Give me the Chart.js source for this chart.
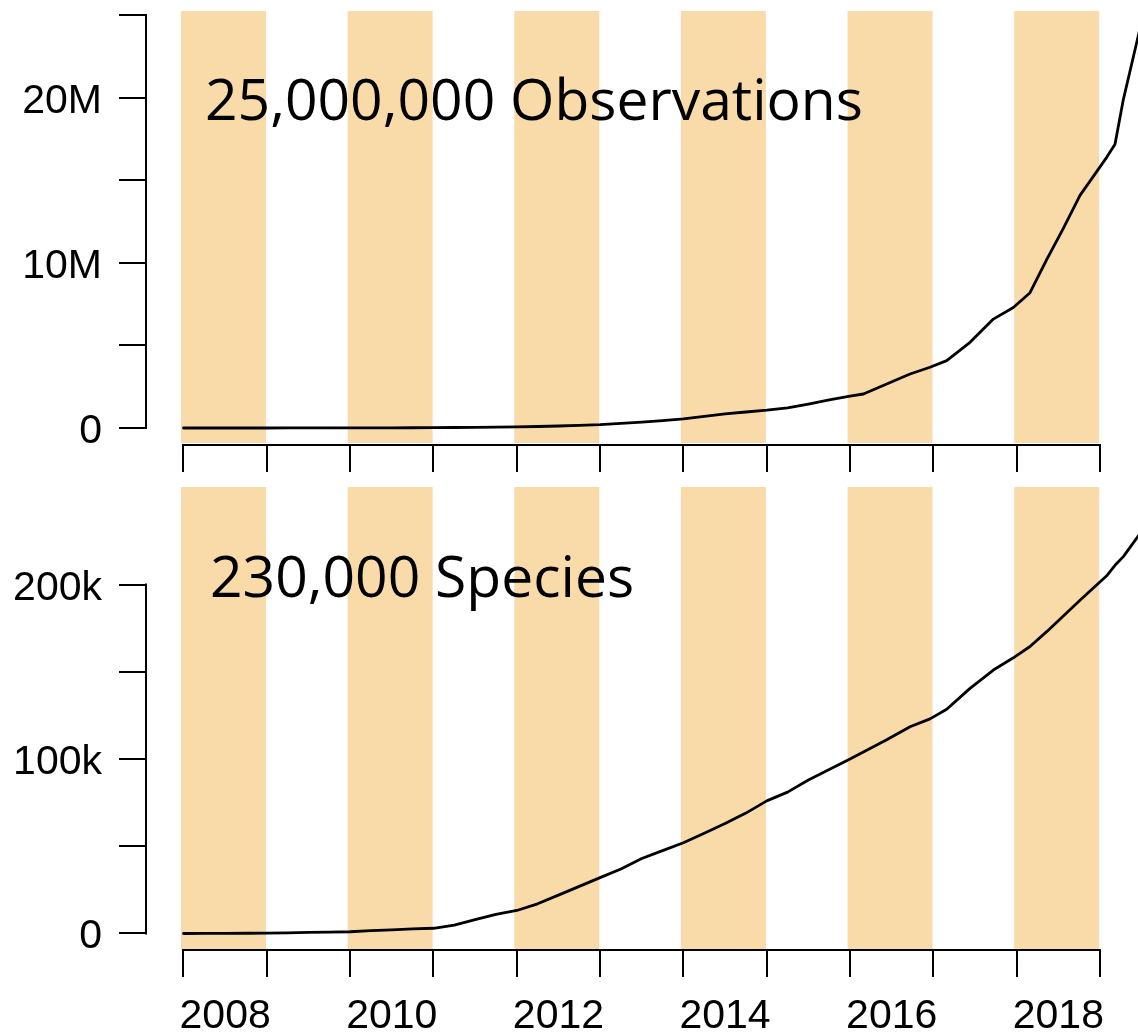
<!DOCTYPE html>
<html><head><meta charset="utf-8">
<script src="https://cdn.jsdelivr.net/npm/chart.js@4.4.1/dist/chart.umd.min.js"></script>
<style>
html,body{margin:0;padding:0;background:#fff;width:1138px;height:1032px;overflow:hidden}
.panel{position:absolute;left:0}
canvas{display:block}
</style></head><body>
<div class="panel" style="top:0"><canvas id="obs" width="1138" height="480"></canvas></div>
<div class="panel" style="top:480px"><canvas id="spp" width="1138" height="552"></canvas></div>
<script>
// ---- data (decimal years) ----
const dates = [2008.00,2008.25,2008.50,2008.75,2009.00,2009.25,2009.50,2009.75,
  2010.00,2010.25,2010.50,2010.75,2011.00,2011.25,2011.50,2011.75,
  2012.00,2012.25,2012.50,2012.75,2013.00,2013.25,2013.50,2013.75,
  2014.00,2014.25,2014.50,2014.75,2015.00,2015.25,2015.50,2015.75,
  2016.00,2016.16,2016.44,2016.72,2016.96,2017.16,2017.44,2017.72,2017.96,
  2018.16,2018.36,2018.56,2018.76,2019.08,2019.18,2019.28,2019.47];
// cumulative observations, millions
const observationsM = [0,0,0,0,0.001,0.002,0.003,0.004,
  0.006,0.008,0.010,0.015,0.020,0.030,0.040,0.055,
  0.07,0.09,0.12,0.16,0.20,0.28,0.36,0.45,
  0.55,0.70,0.85,0.97,1.08,1.22,1.45,1.70,
  1.93,2.06,2.67,3.27,3.68,4.08,5.19,6.60,7.30,
  8.20,10.2,12.1,14.1,16.4,17.2,19.9,24.0];
// cumulative species, thousands
const speciesK = [0,0.05,0.1,0.15,0.2,0.4,0.6,0.8,
  1.0,1.6,2.1,2.6,3.0,4.8,8.0,11.0,
  13.2,17,22,27,32,37,43,47.5,
  52,57.5,63,69,76,81,88,94,
  100,104,111,118.5,123,128.5,140.5,151,158,
  164.5,173,182,191,205,211,216,228.5];
const bandYears = [2008,2010,2012,2014,2016,2018];
const axisYears = [2008,2009,2010,2011,2012,2013,2014,2015,2016,2017,2018,2019];
const yearLabels = ['2008','2010','2012','2014','2016','2018'];
const yearLabelValues = [2008,2010,2012,2014,2016,2018];
const obsTickValues = [0,5,10,15,20,25];
const obsTickLabels = ['0','','10M','','20M',''];
const sppTickValues = [0,50,100,150,200];
const sppTickLabels = ['0','','100k','','200k'];
const obsTitle = '25,000,000 Observations';
const sppTitle = '230,000 Species';

const BAND = '#F9DBAA';
const NUMFONT = '41px "Liberation Sans", Arial, Helvetica, sans-serif';
const TITLEFONT = '57px "Open Sans", "Noto Sans", sans-serif';

function rStyle(cfg){
  return {
    id: 'rStyle',
    beforeDatasetsDraw(chart){
      const {ctx, chartArea:a, scales:{x}} = chart;
      ctx.save();
      ctx.fillStyle = BAND;
      for (const yr of bandYears){
        const l = x.getPixelForValue(yr - 0.03), r = x.getPixelForValue(yr + 0.99);
        ctx.fillRect(l, a.top, r - l, a.bottom - a.top);
      }
      ctx.restore();
    },
    afterDraw(chart){
      const {ctx, chartArea:a, scales:{x, y}} = chart;
      ctx.save();
      ctx.strokeStyle = '#000';
      ctx.lineWidth = 2;
      ctx.lineCap = 'square';
      // y axis
      const ax = a.left - 34;
      const tv = cfg.tickValues;
      ctx.beginPath();
      ctx.moveTo(ax, y.getPixelForValue(tv[tv.length-1]));
      ctx.lineTo(ax, y.getPixelForValue(tv[0]));
      tv.forEach(v => { const py = Math.round(y.getPixelForValue(v)); ctx.moveTo(ax - 26, py); ctx.lineTo(ax, py); });
      ctx.stroke();
      ctx.fillStyle = '#000';
      ctx.font = NUMFONT;
      ctx.textAlign = 'right';
      ctx.textBaseline = 'alphabetic';
      tv.forEach((v, i) => {
        if (!cfg.tickLabels[i]) return;
        ctx.fillText(cfg.tickLabels[i], ax - 44, y.getPixelForValue(v) + 15);
      });
      // x axis
      const xy = a.bottom + cfg.xGap;
      ctx.beginPath();
      ctx.moveTo(x.getPixelForValue(axisYears[0]), xy);
      ctx.lineTo(x.getPixelForValue(axisYears[axisYears.length-1]), xy);
      axisYears.forEach(yr => { const px = Math.round(x.getPixelForValue(yr)); ctx.moveTo(px, xy); ctx.lineTo(px, xy + 26); });
      ctx.stroke();
      if (cfg.xLabels){
        ctx.textAlign = 'center';
        yearLabelValues.forEach((yr, i) => {
          ctx.fillText(yearLabels[i], x.getPixelForValue(yr + 0.5), xy + 78);
        });
      }
      // title
      ctx.font = TITLEFONT;
      ctx.textAlign = 'left';
      ctx.fillText(cfg.title, a.left + cfg.titleDx, a.top + cfg.titleDy);
      ctx.restore();
    }
  };
}

function makeChart(id, values, yMin, yMax, pad, cfg){
  return new Chart(document.getElementById(id), {
    type: 'line',
    data: { datasets: [{
      data: dates.map((d, i) => ({x: d, y: values[i]})),
      borderColor: '#000', borderWidth: 2.8, borderJoinStyle: 'round', borderCapStyle: 'round',
      pointRadius: 0, tension: 0, fill: false
    }]},
    options: {
      responsive: false, animation: false, devicePixelRatio: 1,
      layout: { padding: pad },
      plugins: { legend: {display: false}, tooltip: {enabled: false}, title: {display: false} },
      scales: {
        x: { type: 'linear', display: false, min: 2007.958, max: 2019.456 },
        y: { type: 'linear', display: false, min: yMin, max: yMax }
      }
    },
    plugins: [rStyle(cfg)]
  });
}

makeChart('obs', observationsM, -0.909, 25.27, {left:180, right:0, top:11, bottom:37},
  {tickValues: obsTickValues, tickLabels: obsTickLabels, xGap: 2, xLabels: false,
   title: obsTitle, titleDx: 25, titleDy: 109});
makeChart('spp', speciesK, -9.46, 255.9, {left:180, right:0, top:7, bottom:82},
  {tickValues: sppTickValues, tickLabels: sppTickLabels, xGap: 0, xLabels: true,
   title: sppTitle, titleDx: 30, titleDy: 110});
</script>
</body></html>
